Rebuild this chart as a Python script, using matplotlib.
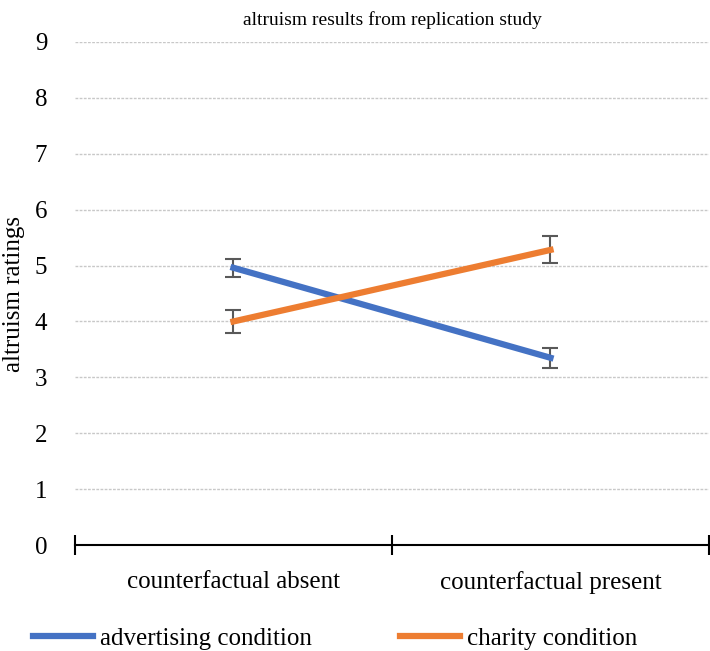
import matplotlib.pyplot as plt

plt.rcParams['font.family'] = ['Liberation Serif', 'DejaVu Serif']

conditions = ["counterfactual absent", "counterfactual present"]
advertising = [4.96, 3.35]
advertising_err = [0.16, 0.18]
charity = [4.0, 5.28]
charity_err = [0.21, 0.24]
yticks = list(range(0, 10))

fig = plt.figure(figsize=(7.1, 6.51), dpi=100)
ax = fig.add_axes([0.1056, 0.1628, 0.893, 0.7727])

xpos = [0.5, 1.5]
ax.errorbar(xpos, advertising, yerr=advertising_err, color="#4472C4", lw=4.5,
            ecolor="#595959", elinewidth=1.5, capsize=5.5, capthick=1.5,
            label="advertising condition", zorder=3)
ax.errorbar(xpos, charity, yerr=charity_err, color="#ED7D31", lw=4.5,
            ecolor="#595959", elinewidth=1.5, capsize=5.5, capthick=1.5,
            label="charity condition", zorder=3)

ax.set_xlim(0, 2)
ax.set_ylim(0, 9)
ax.set_yticks(yticks)
ax.tick_params(axis="y", length=0, pad=20, labelsize=18)
ax.set_xticks([0, 1, 2])
ax.set_xticklabels([])
ax.tick_params(axis="x", which="major", direction="inout", length=14, width=1.5)
ax.set_xticks(xpos, minor=True)
ax.set_xticklabels(conditions, minor=True)
ax.tick_params(axis="x", which="minor", length=0, pad=19, labelsize=18)

ax.grid(axis="y", color="#c8c8c8", linestyle=(0, (2, 1)), lw=1)
for s in ["top", "right", "left"]:
    ax.spines[s].set_visible(False)
ax.spines["bottom"].set_linewidth(1.5)

ax.set_ylabel("altruism ratings", fontsize=18)
ax.yaxis.set_label_coords(-0.079, 0.5)
ax.set_title("altruism results from replication study", fontsize=14, pad=12)

h, l = ax.get_legend_handles_labels()
h = [x[0] for x in h]
fig.legend(h, l, loc="center", ncol=2, frameon=False, fontsize=18,
           bbox_to_anchor=(0.472, 0.019), handlelength=2.4, handletextpad=0.3,
           columnspacing=3.5)

fig.savefig("out.png")
